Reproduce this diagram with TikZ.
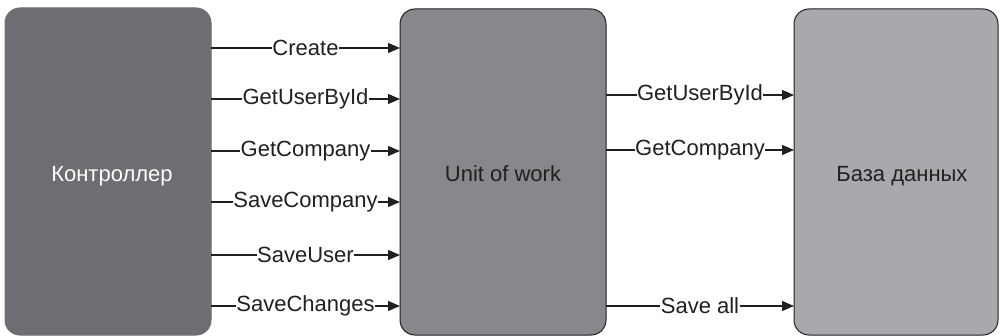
\documentclass[tikz,border=0pt]{standalone}
\usepackage{fontspec}
\setmainfont{Liberation Sans}
\usetikzlibrary{arrows.meta}
\definecolor{boxA}{HTML}{6D6E71}
\definecolor{boxB}{HTML}{87888B}
\definecolor{boxC}{HTML}{A7A9AC}
\definecolor{ink}{HTML}{231F20}
\begin{document}
\begin{tikzpicture}[x=1pt,y=-1pt,
  font=\fontsize{22}{26}\selectfont,
  blk/.style={rounded corners=15pt, line width=1pt, draw=ink},
  conn/.style={line width=1.1pt, draw=ink, -{Triangle[length=12pt,width=10pt]}},
  lbl/.style={fill=white, inner sep=0.5pt, text=ink}]
\useasboundingbox (0,0) rectangle (1000,336);
\path[blk, fill=boxA, draw=boxA] (5,8) rectangle (211,335);
\node[text=white] (ctrl) at (112,176) {Контроллер};
\path[blk, fill=boxB] (400,9) rectangle (606,335);
\node[text=ink] (uow) at (503,174) {Unit of work};
\path[blk, fill=boxC] (794,9) rectangle (998,335);
\node[text=ink] (db) at (902,176) {База данных};
% left connectors
\coordinate (a1) at (211,48);  \coordinate (b1) at (400,48);
\coordinate (a2) at (211,99);  \coordinate (b2) at (400,99);
\coordinate (a3) at (211,151); \coordinate (b3) at (400,151);
\coordinate (a4) at (211,202); \coordinate (b4) at (400,202);
\coordinate (a5) at (211,255); \coordinate (b5) at (400,255);
\coordinate (a6) at (211,306); \coordinate (b6) at (400,306);
\draw[conn] (a1) -- node[lbl, pos=0.5] {Create} (b1);
\draw[conn] (a2) -- node[lbl, pos=0.5] {GetUserById} (b2);
\draw[conn] (a3) -- node[lbl, pos=0.5] {GetCompany} (b3);
\draw[conn] (a4) -- node[lbl, pos=0.5] {SaveCompany} (b4);
\draw[conn] (a5) -- node[lbl, pos=0.5] {SaveUser} (b5);
\draw[conn] (a6) -- node[lbl, pos=0.5] {SaveChanges} (b6);
% right connectors
\coordinate (c1) at (606,95);  \coordinate (d1) at (794,95);
\coordinate (c2) at (606,150); \coordinate (d2) at (794,150);
\coordinate (c3) at (606,306); \coordinate (d3) at (794,306);
\draw[conn] (c1) -- node[lbl, pos=0.5] {GetUserById} (d1);
\draw[conn] (c2) -- node[lbl, pos=0.5] {GetCompany} (d2);
\draw[conn] (c3) -- node[lbl, pos=0.5] {Save all} (d3);
\end{tikzpicture}
\end{document}
